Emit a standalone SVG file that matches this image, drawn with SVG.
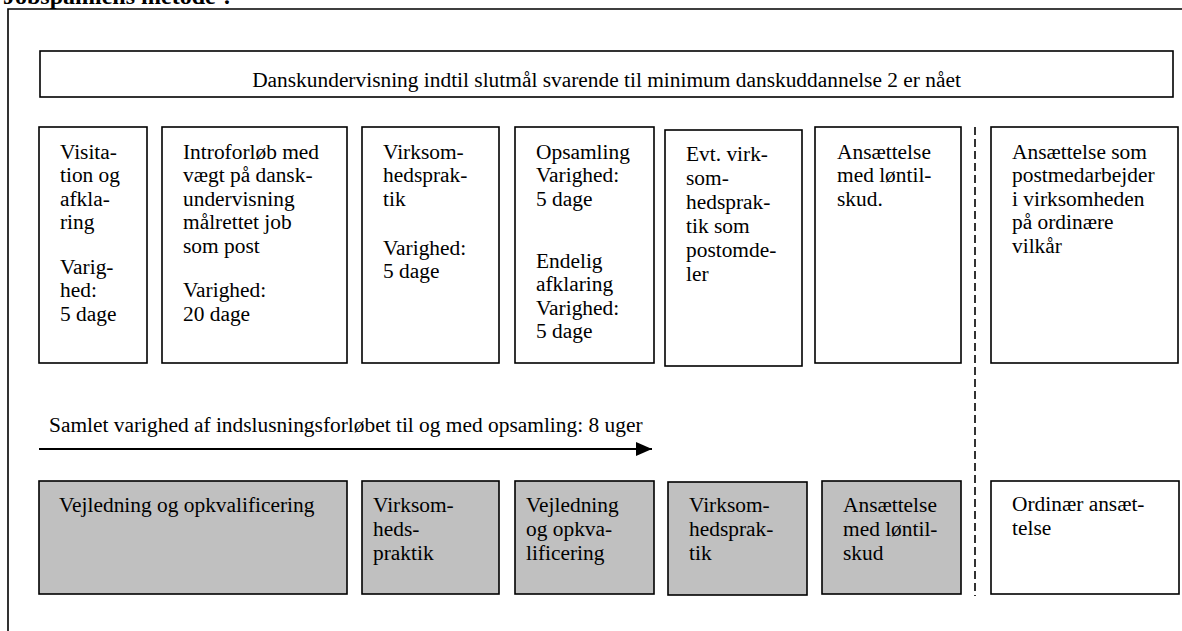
<svg xmlns="http://www.w3.org/2000/svg" width="1182" height="631" viewBox="0 0 1182 631">
<style>
  .bx { fill: #ffffff; stroke: #000000; stroke-width: 1.6; }
  .gy { fill: #c0c0c0; stroke: #000000; stroke-width: 1.6; }
  .t { font-family: "Liberation Serif", "Times New Roman", serif; font-size: 20px; fill: #000000; }
  .ttl { font-family: "Liberation Serif", "Times New Roman", serif; font-size: 24px; font-weight: bold; fill: #000000; }
  .cn { stroke: #000000; fill: none; }
</style>
<defs>
  <marker id="ah" markerUnits="userSpaceOnUse" markerWidth="18" markerHeight="16" refX="16" refY="7" orient="auto">
    <path d="M0,0 L16,7 L0,14 Z" fill="#000000"/>
  </marker>
</defs>
<rect x="0" y="0" width="1182" height="631" fill="#ffffff"/>
<g id="title">
  <text class="ttl" x="3" y="4">Jobspamlens metode ?</text>
</g>
<g id="frame">
  <path d="M8,631 V9 H1182" fill="none" stroke="#000000" stroke-width="1.6"/>
</g>
<g id="banner">
  <rect class="bx" x="40" y="51" width="1133" height="46"/>
  <text class="t" text-anchor="middle" transform="translate(606.5,0) scale(1.07,1)" x="0" y="87">Danskundervisning indtil slutmål svarende til minimum danskuddannelse 2 er nået</text>
</g>
<g id="visitation">
  <rect class="bx" x="39" y="127" width="108" height="236"/>
  <text class="t" transform="translate(60,0) scale(1.07,1)">
    <tspan x="0" y="159">Visita-</tspan><tspan x="0" y="182.5">tion og</tspan><tspan x="0" y="206">afkla-</tspan><tspan x="0" y="229.5">ring</tspan><tspan x="0" y="274">Varig-</tspan><tspan x="0" y="297.5">hed:</tspan><tspan x="0" y="321">5 dage</tspan>
  </text>
</g>
<g id="introforloeb">
  <rect class="bx" x="162" y="127" width="185" height="236"/>
  <text class="t" transform="translate(183,0) scale(1.07,1)">
    <tspan x="0" y="159">Introforløb med</tspan><tspan x="0" y="182.5">vægt på dansk-</tspan><tspan x="0" y="206">undervisning</tspan><tspan x="0" y="229.5">målrettet job</tspan><tspan x="0" y="253">som post</tspan><tspan x="0" y="297.5">Varighed:</tspan><tspan x="0" y="321">20 dage</tspan>
  </text>
</g>
<g id="virksomhedspraktik1">
  <rect class="bx" x="362" y="127" width="137" height="236"/>
  <text class="t" transform="translate(383,0) scale(1.07,1)">
    <tspan x="0" y="159">Virksom-</tspan><tspan x="0" y="182.5">hedsprak-</tspan><tspan x="0" y="206">tik</tspan><tspan x="0" y="255">Varighed:</tspan><tspan x="0" y="278.5">5 dage</tspan>
  </text>
</g>
<g id="opsamling">
  <rect class="bx" x="515" y="127" width="139" height="236"/>
  <text class="t" transform="translate(536,0) scale(1.07,1)">
    <tspan x="0" y="159">Opsamling</tspan><tspan x="0" y="182.5">Varighed:</tspan><tspan x="0" y="206">5 dage</tspan><tspan x="0" y="268">Endelig</tspan><tspan x="0" y="291.5">afklaring</tspan><tspan x="0" y="315">Varighed:</tspan><tspan x="0" y="338.5">5 dage</tspan>
  </text>
</g>
<g id="evt-virksomhedspraktik">
  <rect class="bx" x="665" y="130" width="137" height="236"/>
  <text class="t" transform="translate(686,0) scale(1.07,1)">
    <tspan x="0" y="161">Evt. virk-</tspan><tspan x="0" y="185">som-</tspan><tspan x="0" y="209">hedsprak-</tspan><tspan x="0" y="233">tik som</tspan><tspan x="0" y="257">postomde-</tspan><tspan x="0" y="281">ler</tspan>
  </text>
</g>
<g id="ansaettelse-loentilskud1">
  <rect class="bx" x="815" y="127" width="146" height="236"/>
  <text class="t" transform="translate(837,0) scale(1.07,1)">
    <tspan x="0" y="159">Ansættelse</tspan><tspan x="0" y="182.5">med løntil-</tspan><tspan x="0" y="206">skud.</tspan>
  </text>
</g>
<g id="ansaettelse-postmedarbejder">
  <rect class="bx" x="991" y="127" width="187" height="236"/>
  <text class="t" transform="translate(1012,0) scale(1.07,1)">
    <tspan x="0" y="159">Ansættelse som</tspan><tspan x="0" y="182.5">postmedarbejder</tspan><tspan x="0" y="206">i virksomheden</tspan><tspan x="0" y="229.5">på ordinære</tspan><tspan x="0" y="253">vilkår</tspan>
  </text>
</g>
<g id="samlet-varighed">
  <text class="t" transform="translate(49,0) scale(1.07,1)" x="0" y="432">Samlet varighed af indslusningsforløbet til og med opsamling: 8 uger</text>
</g>
<g id="connectors">
  <line class="cn" x1="39" y1="449" x2="652" y2="449" stroke-width="2" marker-end="url(#ah)"/>
  <line class="cn" x1="975" y1="127" x2="975" y2="596" stroke-width="1.6" stroke-dasharray="8 4"/>
</g>
<g id="vejledning1">
  <rect class="gy" x="39" y="481" width="308" height="113"/>
  <text class="t" transform="translate(59,0) scale(1.07,1)" x="0" y="512">Vejledning og opkvalificering</text>
</g>
<g id="virksomhedspraktik2">
  <rect class="gy" x="362" y="481" width="137" height="113"/>
  <text class="t" transform="translate(373,0) scale(1.07,1)">
    <tspan x="0" y="512">Virksom-</tspan><tspan x="0" y="536">heds-</tspan><tspan x="0" y="560">praktik</tspan>
  </text>
</g>
<g id="vejledning2">
  <rect class="gy" x="515" y="481" width="139" height="113"/>
  <text class="t" transform="translate(526,0) scale(1.07,1)">
    <tspan x="0" y="512">Vejledning</tspan><tspan x="0" y="536">og opkva-</tspan><tspan x="0" y="560">lificering</tspan>
  </text>
</g>
<g id="virksomhedspraktik3">
  <rect class="gy" x="668" y="482" width="139" height="113"/>
  <text class="t" transform="translate(689,0) scale(1.07,1)">
    <tspan x="0" y="512">Virksom-</tspan><tspan x="0" y="536">hedsprak-</tspan><tspan x="0" y="560">tik</tspan>
  </text>
</g>
<g id="ansaettelse-loentilskud2">
  <rect class="gy" x="822" y="481" width="139" height="113"/>
  <text class="t" transform="translate(843,0) scale(1.07,1)">
    <tspan x="0" y="512">Ansættelse</tspan><tspan x="0" y="536">med løntil-</tspan><tspan x="0" y="560">skud</tspan>
  </text>
</g>
<g id="ordinaer-ansaettelse">
  <rect class="bx" x="991" y="481" width="188" height="113"/>
  <text class="t" transform="translate(1012,0) scale(1.07,1)">
    <tspan x="0" y="511">Ordinær ansæt-</tspan><tspan x="0" y="535">telse</tspan>
  </text>
</g>
</svg>
